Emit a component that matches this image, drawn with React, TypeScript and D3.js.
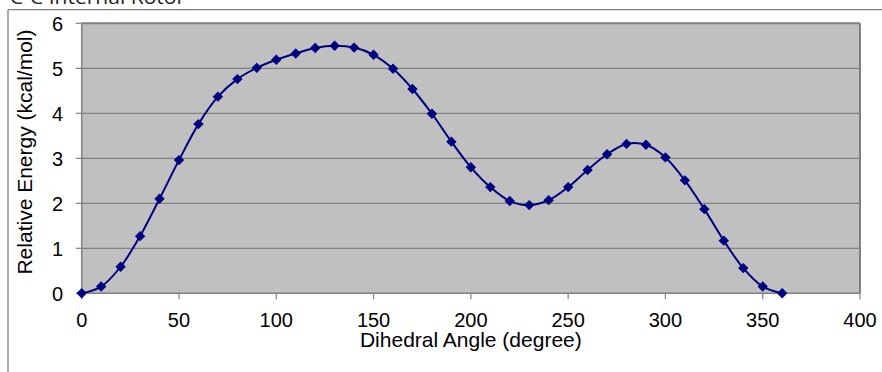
import React from "react";
import * as d3 from "d3";

const angles = [0, 10, 20, 30, 40, 50, 60, 70, 80, 90, 100, 110, 120, 130, 140, 150, 160, 170, 180, 190, 200, 210, 220, 230, 240, 250, 260, 270, 280, 290, 300, 310, 320, 330, 340, 350, 360];
const energies = [0, 0.15, 0.59, 1.27, 2.1, 2.96, 3.76, 4.37, 4.76, 5.01, 5.19, 5.33, 5.45, 5.5, 5.46, 5.3, 4.99, 4.54, 3.99, 3.37, 2.8, 2.36, 2.05, 1.96, 2.07, 2.36, 2.74, 3.09, 3.32, 3.3, 3.02, 2.51, 1.87, 1.17, 0.56, 0.15, 0.0];
const xTicks = [0, 50, 100, 150, 200, 250, 300, 350, 400];
const yTicks = [0, 1, 2, 3, 4, 5, 6];
const title = "C-C Internal Rotor";
const xTitle = "Dihedral Angle (degree)";
const yTitle = "Relative Energy (kcal/mol)";

const W = 882;
const H = 372;
const left = 81.7, right = 860, top = 23.3, bottom = 293.3;

export default function App() {
  const x = d3.scaleLinear().domain([0, 400]).range([left, right]);
  const y = d3.scaleLinear().domain([0, 6]).range([bottom, top]);
  const data = angles.map((a, i) => [a, energies[i]] as [number, number]);
  const line = d3
    .line<[number, number]>()
    .x((d) => x(d[0]))
    .y((d) => y(d[1]))
    .curve(d3.curveCatmullRom.alpha(0.5));
  const marker = d3.symbol().type(d3.symbolSquare).size(40)() as string;
  const font = "'Liberation Sans', Arial, sans-serif";
  const grey = "#808080";

  return (
    <svg
      width={W}
      height={H}
      style={{ position: "absolute", left: 0, top: 0, display: "block", background: "#fff" }}
    >
      <text x={10} y={4} fontFamily="'Open Sans', 'DejaVu Sans', sans-serif" fontSize={19} fill="#222" textLength={175} lengthAdjust="spacingAndGlyphs">
        {title}
      </text>
      {/* outer frame */}
      <line x1={8} x2={W} y1={9.7} y2={9.7} stroke={grey} strokeWidth={1.3} />
      <line x1={8} x2={8} y1={9.7} y2={H} stroke={grey} strokeWidth={1.3} />

      {/* plot area */}
      <rect x={left} y={top} width={right - left} height={bottom - top} fill="#c0c0c0" />
      {yTicks.slice(1, -1).map((t) => (
        <line key={"g" + t} x1={left} x2={right} y1={y(t)} y2={y(t)} stroke={grey} strokeWidth={1.2} />
      ))}
      <line x1={left} x2={right} y1={top} y2={top} stroke={grey} strokeWidth={2} />
      <line x1={right} x2={right} y1={top} y2={bottom} stroke={grey} strokeWidth={2} />
      <line x1={left} x2={left} y1={top} y2={bottom} stroke={grey} strokeWidth={1.5} />
      <line x1={left} x2={right} y1={bottom} y2={bottom} stroke={grey} strokeWidth={1.5} />

      {/* y ticks */}
      {yTicks.map((t) => (
        <g key={"y" + t}>
          <line x1={left - 6} x2={left} y1={y(t)} y2={y(t)} stroke={grey} strokeWidth={1.2} />
          <text x={63} y={y(t) + 7.5} textAnchor="end" fontFamily={font} fontSize={20} fill="#000">
            {t}
          </text>
        </g>
      ))}
      {/* x ticks */}
      {xTicks.map((t) => (
        <g key={"x" + t}>
          <line x1={x(t)} x2={x(t)} y1={bottom} y2={bottom + 6} stroke={grey} strokeWidth={1.2} />
          <text x={x(t)} y={326.5} textAnchor="middle" fontFamily={font} fontSize={20} fill="#000">
            {t}
          </text>
        </g>
      ))}

      <text x={(left + right) / 2} y={346.5} textAnchor="middle" fontFamily={font} fontSize={21} fill="#000">
        {xTitle}
      </text>
      <text
        transform={`translate(31.5, 152) rotate(-90)`}
        textAnchor="middle"
        fontFamily={font}
        fontSize={21}
        fill="#000"
      >
        {yTitle}
      </text>

      <path d={line(data) as string} fill="none" stroke="#000080" strokeWidth={2} />
      {data.map((d, i) => (
        <path
          key={"m" + i}
          d={marker}
          transform={`translate(${x(d[0])},${y(d[1])}) rotate(45)`}
          fill="#000080"
          stroke="#000080"
          strokeWidth={1}
        />
      ))}
    </svg>
  );
}
